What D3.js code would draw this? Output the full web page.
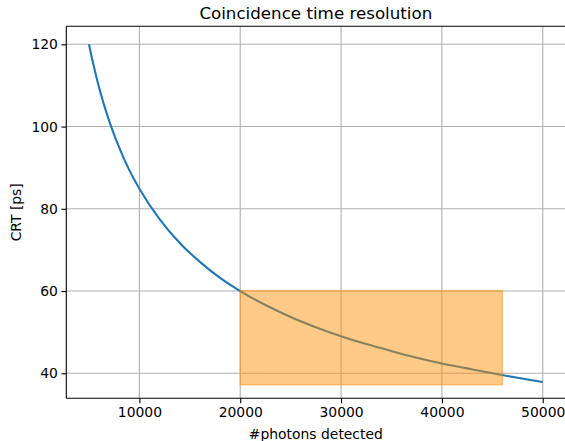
<!DOCTYPE html>
<html>
<head>
<meta charset="utf-8">
<script src="https://cdn.jsdelivr.net/npm/d3@7"></script>
<style>
  html, body { margin: 0; padding: 0; background: #fff; }
  svg { display: block; font-family: "DejaVu Sans", sans-serif; }
</style>
</head>
<body>
<svg id="chart" width="565" height="441"></svg>
<script>
// ---- data ----
const photons = [5000, 5500, 6000, 6500, 7000, 7500, 8000, 9000, 10000, 12000, 14000, 16000, 18000, 20000,
                 22500, 25000, 27500, 30000, 32500, 35000, 37500, 40000, 42500, 45000, 47500, 50000];
const crt = [120.0, 114.4, 109.5, 105.2, 101.4, 98.0, 94.9, 89.4, 84.9, 77.5, 71.7, 67.1, 63.2, 60.0,
             56.6, 53.7, 51.2, 49.0, 47.1, 45.4, 43.8, 42.4, 41.2, 40.0, 38.9, 37.9];
const regionX = [20000, 46000];
const regionY = [37.2, 60.1];
const xTicks = [10000, 20000, 30000, 40000, 50000];
const yTicks = [40, 60, 80, 100, 120];
const title = "Coincidence time resolution";
const xLabel = "#photons detected";
const yLabel = "CRT [ps]";

// ---- layout ----
const svg = d3.select("#chart");
const mLeft = 66.3, mRight = 565.4, mTop = 26.3, mBottom = 398.3;

const x = d3.scaleLinear().domain([2750, 52250]).range([mLeft, mRight]);
const y = d3.scaleLinear().domain([33.92, 124.38]).range([mBottom, mTop]);

const gridColor = "#b0b0b0";

// grid
const grid = svg.append("g");
grid.selectAll("line.gx").data(xTicks).enter().append("line")
  .attr("x1", d => x(d)).attr("x2", d => x(d))
  .attr("y1", mTop).attr("y2", mBottom)
  .attr("stroke", gridColor).attr("stroke-width", 1.1);
grid.selectAll("line.gy").data(yTicks).enter().append("line")
  .attr("x1", mLeft).attr("x2", mRight)
  .attr("y1", d => y(d)).attr("y2", d => y(d))
  .attr("stroke", gridColor).attr("stroke-width", 1.1);

// curve
const line = d3.line().x(d => x(d[0])).y(d => y(d[1])).curve(d3.curveMonotoneX);
svg.append("path")
  .datum(photons.map((p, i) => [p, crt[i]]))
  .attr("d", line)
  .attr("fill", "none")
  .attr("stroke", "#1f77b4")
  .attr("stroke-width", 2.08);

// highlighted region (drawn on top, semi-transparent)
svg.append("rect")
  .attr("x", x(regionX[0]))
  .attr("y", y(regionY[1]))
  .attr("width", x(regionX[1]) - x(regionX[0]))
  .attr("height", y(regionY[0]) - y(regionY[1]))
  .attr("fill", "#ff8c00").attr("fill-opacity", 0.47)
  .attr("stroke", "#ff8c00").attr("stroke-opacity", 0.45)
  .attr("stroke-width", 1.39);

// axes
const xAxis = d3.axisBottom(x).tickValues(xTicks).tickFormat(d3.format("d")).tickSize(4.9).tickPadding(3.5);
const yAxis = d3.axisLeft(y).tickValues(yTicks).tickFormat(d3.format("d")).tickSize(4.9).tickPadding(3.5);

const gx = svg.append("g").attr("transform", `translate(0,${mBottom})`).call(xAxis);
const gy = svg.append("g").attr("transform", `translate(${mLeft},0)`).call(yAxis);
[gx, gy].forEach(g => {
  g.select(".domain").remove();
  g.selectAll("line").attr("stroke", "#000").attr("stroke-width", 1.1);
  g.selectAll("text").attr("fill", "#000").style("font-size", "13.9px").style("font-family", "DejaVu Sans");
});
gx.selectAll("text").attr("dy", "0.75em");

// spines (right spine lies just outside the visible canvas)
const sp = svg.append("g").attr("stroke", "#000").attr("stroke-width", 1.1).attr("fill", "none");
sp.append("line").attr("x1", mLeft).attr("x2", mLeft).attr("y1", mTop).attr("y2", mBottom);
sp.append("line").attr("x1", mLeft).attr("x2", mRight).attr("y1", mBottom).attr("y2", mBottom);
sp.append("line").attr("x1", mLeft).attr("x2", mRight).attr("y1", mTop).attr("y2", mTop);

// title & labels
svg.append("text").attr("x", (mLeft + mRight) / 2).attr("y", 18.5)
  .attr("text-anchor", "middle").style("font-size", "16.7px").attr("fill", "#000").text(title);
svg.append("text").attr("x", (mLeft + mRight) / 2).attr("y", 439)
  .attr("text-anchor", "middle").style("font-size", "13.9px").attr("fill", "#000").text(xLabel);
svg.append("text").attr("transform", `translate(21,${(mTop + mBottom) / 2}) rotate(-90)`)
  .attr("text-anchor", "middle").style("font-size", "13.9px").attr("fill", "#000").text(yLabel);
</script>
</body>
</html>
